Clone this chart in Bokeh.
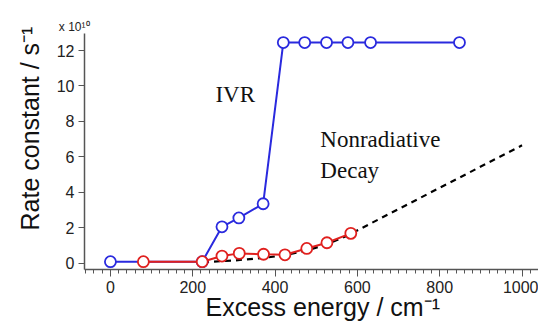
from bokeh.plotting import figure
from bokeh.models import Range1d, FixedTicker, Label, Title
from bokeh.embed import file_html
from bokeh.resources import INLINE

# ---- data ----
ivr_energy = [0, 223, 271, 312, 371, 420, 472, 525, 577, 632, 848]
ivr_rate = [0.08, 0.08, 2.05, 2.55, 3.35, 12.45, 12.45, 12.45, 12.45, 12.45, 12.45]

nr_energy = [80, 223, 271, 313, 372, 424, 477, 526, 584]
nr_rate = [0.08, 0.08, 0.40, 0.55, 0.50, 0.47, 0.83, 1.15, 1.68]

fit_energy = [225, 300, 375, 425, 475, 525, 575, 650, 750, 850, 1000]
fit_rate = [0.05, 0.15, 0.30, 0.45, 0.70, 1.05, 1.55, 2.45, 3.65, 4.85, 6.65]

x_major = [0, 200, 400, 600, 800, 1000]
x_minor = list(range(-60, 1041, 20))
y_major = [0, 2, 4, 6, 8, 10, 12]

x_title = "Excess energy / cm\u207b\u00b9"
y_title = "Rate constant / s\u207b\u00b9"
scale_note = "x 10\u00b9\u2070"

BLUE = "#2a2ade"
RED = "#e0201e"
AX = "#555555"
SANS = "Liberation Sans"
SERIF = "Liberation Serif"

W, H = 538, 329
p = figure(width=W, height=H, output_backend="svg", toolbar_location=None,
           x_range=Range1d(-63, 1040), y_range=Range1d(-0.36, 12.96),
           min_border_left=84, min_border_right=0, min_border_top=33,
           min_border_bottom=60)
p.outline_line_color = None
p.xgrid.visible = False
p.ygrid.visible = False
p.background_fill_color = "white"
p.border_fill_color = "white"

xa = p.xaxis[0]
xa.ticker = FixedTicker(ticks=x_major, minor_ticks=x_minor)
xa.major_tick_out = 7
xa.major_tick_in = 0
xa.minor_tick_out = 4
xa.minor_tick_in = 0
xa.axis_line_color = AX
xa.axis_line_width = 1.5
xa.major_tick_line_color = AX
xa.minor_tick_line_color = AX
xa.major_label_text_font = SANS
xa.major_label_text_font_size = "16px"
xa.major_label_text_color = "#222222"
xa.major_label_standoff = 4

ya = p.yaxis[0]
ya.ticker = FixedTicker(ticks=y_major)
ya.major_tick_out = 6
ya.major_tick_in = 0
ya.minor_tick_line_color = None
ya.axis_line_color = AX
ya.axis_line_width = 1.5
ya.major_tick_line_color = AX
ya.major_label_text_font = SANS
ya.major_label_text_font_size = "16px"
ya.major_label_text_color = "#222222"
ya.major_label_standoff = 4

# dashed fit
p.line(fit_energy, fit_rate, line_color="black", line_width=2.2, line_dash="6 5")

# IVR
p.line(ivr_energy, ivr_rate, line_color=BLUE, line_width=2)
p.scatter(ivr_energy, ivr_rate, size=11, marker="circle", fill_color="white",
          line_color=BLUE, line_width=1.8)

# Nonradiative
p.line(nr_energy, nr_rate, line_color=RED, line_width=2)
p.scatter(nr_energy, nr_rate, size=11, marker="circle", fill_color="white",
          line_color=RED, line_width=1.8)

# annotations in data space
p.add_layout(Label(x=255, y=8.8, text="IVR", text_font=SERIF,
                   text_font_size="23px", text_color="#111111"))
p.add_layout(Label(x=510, y=6.25, text="Nonradiative", text_font=SERIF,
                   text_font_size="23px", text_color="#111111"))
p.add_layout(Label(x=510, y=4.55, text="Decay", text_font=SERIF,
                   text_font_size="23px", text_color="#111111"))

# axis titles as side-panel titles (not clipped by the frame)
p.add_layout(Title(text=x_title, align="left", offset=121, standoff=-10,
                   text_font=SANS, text_font_size="25px", text_font_style="normal",
                   text_color="#111111"), "below")
p.add_layout(Title(text=y_title, align="left", offset=39, standoff=19,
                   text_font=SANS, text_font_size="25px", text_font_style="normal",
                   text_color="#111111"), "left")
p.add_layout(Title(text=scale_note, align="right", offset=449, standoff=0,
                   text_font=SANS, text_font_size="12px", text_font_style="normal",
                   text_color="#222222"), "above")

open("out.html", "w").write(file_html(p, INLINE))
